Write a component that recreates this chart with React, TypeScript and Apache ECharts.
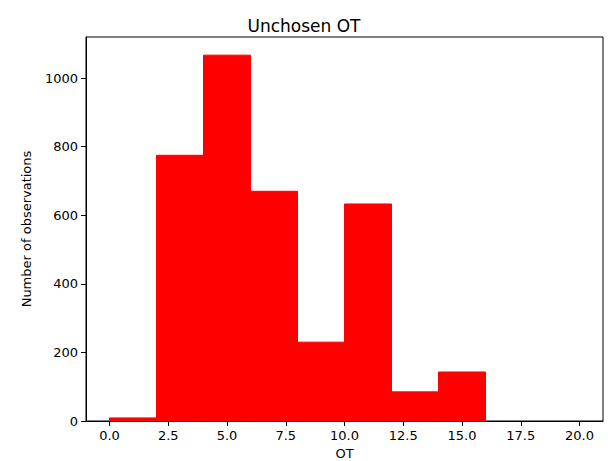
import React, { useEffect, useRef } from "react";
import * as echarts from "echarts";

const binStarts = [0, 2, 4, 6, 8, 10, 12, 14, 16, 18];
const binEnds = [2, 4, 6, 8, 10, 12, 14, 16, 18, 20];
const counts = [9, 775, 1067, 670, 230, 633, 85, 143, 0, 0];
const xTicks = [0, 2.5, 5, 7.5, 10, 12.5, 15, 17.5, 20];
const yTicks = [0, 200, 400, 600, 800, 1000];

const FONT = "DejaVu Sans";

export default function App() {
  const ref = useRef<HTMLDivElement>(null);
  useEffect(() => {
    document.body.style.margin = "0";
    const chart = echarts.init(ref.current!, null, { renderer: "svg" });
    const data = binStarts.map((s, i) => [s, binEnds[i], counts[i]]);
    chart.setOption({
      animation: false,
      backgroundColor: "#fff",
      title: {
        text: "Unchosen OT",
        left: "center",
        top: 12,
        textStyle: { fontFamily: FONT, fontSize: 17, fontWeight: "normal", color: "#000" },
      },
      grid: {
        left: 86,
        right: 5,
        top: 37,
        bottom: 40,
        containLabel: false,
        outerBoundsMode: "none",
        show: true,
        borderColor: "#000",
        borderWidth: 1,
        backgroundColor: "transparent",
      },
      xAxis: {
        type: "value",
        min: -1,
        max: 21,
        name: "OT",
        nameLocation: "middle",
        nameGap: 25,
        nameTextStyle: { fontFamily: FONT, fontSize: 13, color: "#000" },
        splitLine: { show: false },
        axisLine: { show: true, onZero: false, lineStyle: { color: "#000", width: 1 } },
        axisTick: { show: true, length: 5, customValues: xTicks, lineStyle: { color: "#000" } },
        axisLabel: {
          customValues: xTicks,
          formatter: (v: number) => v.toFixed(1),
          fontFamily: FONT,
          fontSize: 13,
          color: "#000",
          margin: 8,
        },
      },
      yAxis: {
        type: "value",
        min: 0,
        max: 1120,
        name: "Number of observations",
        nameLocation: "middle",
        nameGap: 53,
        nameTextStyle: { fontFamily: FONT, fontSize: 13, color: "#000" },
        splitLine: { show: false },
        axisLine: { show: true, onZero: false, lineStyle: { color: "#000", width: 1 } },
        axisTick: { show: true, length: 5, customValues: yTicks, lineStyle: { color: "#000" } },
        axisLabel: {
          customValues: yTicks,
          formatter: (v: number) => String(v),
          fontFamily: FONT,
          fontSize: 13,
          color: "#000",
          margin: 8,
        },
      },
      series: [
        {
          type: "custom",
          data,
          encode: { x: [0, 1], y: 2 },
          renderItem: (params: any, api: any) => {
            const p0 = api.coord([api.value(0), api.value(2)]);
            const p1 = api.coord([api.value(1), 0]);
            const h = p1[1] - p0[1];
            return {
              type: "rect",
              shape: { x: p0[0], y: p0[1], width: p1[0] - p0[0], height: h },
              style:
                api.value(2) > 0
                  ? { fill: "#ff0000", stroke: "#ff0000", lineWidth: 1 }
                  : { fill: "none", stroke: "none" },
            };
          },
        },
      ],
    });
    return () => chart.dispose();
  }, []);
  return (
    <div
      ref={ref}
      style={{ position: "absolute", left: 0, top: 0, width: 608, height: 461 }}
    />
  );
}
